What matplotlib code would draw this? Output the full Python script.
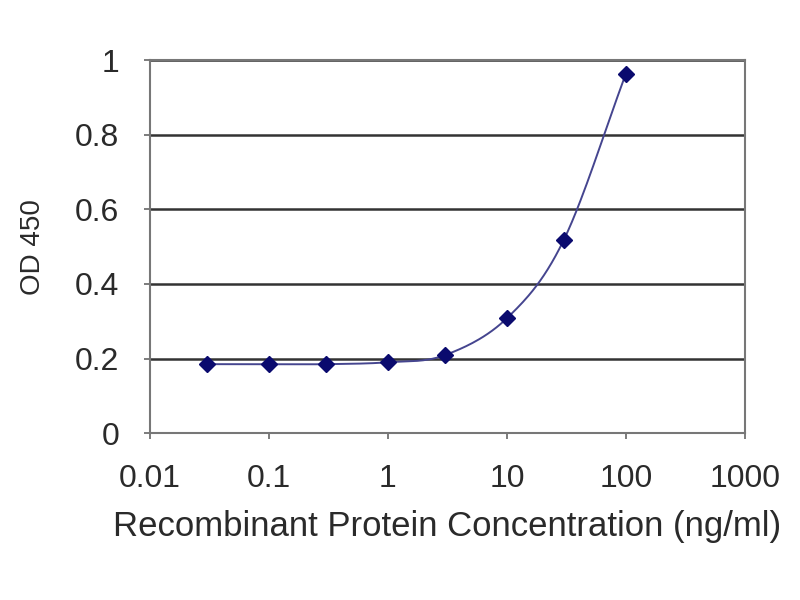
import numpy as np
import matplotlib
matplotlib.use("Agg")
import matplotlib.pyplot as plt

# concentration (ng/ml) and OD 450 readings
conc = [0.03, 0.1, 0.3, 1, 3, 10, 30, 100]
od450 = [0.185, 0.185, 0.185, 0.19, 0.209, 0.308, 0.517, 0.963]
xtick_vals = [0.01, 0.1, 1, 10, 100, 1000]
xtick_labels = ["0.01", "0.1", "1", "10", "100", "1000"]
ytick_vals = [0, 0.2, 0.4, 0.6, 0.8, 1]
ytick_labels = ["0", "0.2", "0.4", "0.6", "0.8", "1"]

plt.rcParams["font.family"] = ["Liberation Sans", "DejaVu Sans"]


def smooth(xs, ys, n=30):
    # excel-like smoothed line: catmull-rom in log-x space
    lx = np.log10(xs)
    y = np.asarray(ys, dtype=float)
    px = np.concatenate([[2 * lx[0] - lx[1]], lx, [2 * lx[-1] - lx[-2]]])
    py = np.concatenate([[2 * y[0] - y[1]], y, [2 * y[-1] - y[-2]]])
    outx, outy = [], []
    t = np.linspace(0, 1, n)
    for i in range(1, len(px) - 2):
        p0, p1, p2, p3 = px[i - 1:i + 3]
        q0, q1, q2, q3 = py[i - 1:i + 3]
        for a, b, c, d, out in ((p0, p1, p2, p3, outx), (q0, q1, q2, q3, outy)):
            out.extend(0.5 * ((2 * b) + (-a + c) * t + (2 * a - 5 * b + 4 * c - d) * t ** 2
                              + (-a + 3 * b - 3 * c + d) * t ** 3))
    return 10 ** np.array(outx), np.array(outy)


fig = plt.figure(figsize=(8, 6), dpi=100)
ax = fig.add_axes([0.1875, 0.278, 0.7435, 0.622])

sx, sy = smooth(conc, od450)
ax.plot(sx, sy, color="#45458f", lw=1.4, zorder=3)
ax.plot(conc, od450, linestyle="none", marker="D", ms=8.5, color="#0a0a6e", zorder=4)

ax.set_xscale("log")
ax.set_xlim(0.01, 1000)
ax.set_ylim(0, 1)
ax.set_xticks(xtick_vals)
ax.set_xticklabels(xtick_labels)
ax.xaxis.set_minor_locator(matplotlib.ticker.NullLocator())
ax.set_yticks(ytick_vals)
ax.set_yticklabels(ytick_labels)

for v in ytick_vals[1:]:
    ax.axhline(v, color="#333333", lw=1.8, zorder=1)

for s in ax.spines.values():
    s.set_color("#777777")
    s.set_linewidth(1.5)

ax.tick_params(axis="both", direction="out", length=4, width=1.2, color="#666666",
               labelsize=23, labelcolor="#2a2a2a")
ax.tick_params(axis="x", pad=18)
ax.tick_params(axis="y", pad=18)

ax.set_xlabel("Recombinant Protein Concentration (ng/ml)", fontsize=25, color="#2a2a2a")
ax.xaxis.set_label_coords(0.5, -0.205)
ax.set_ylabel("OD 450", fontsize=20, color="#2a2a2a")
ax.yaxis.set_label_coords(-0.175, 0.5)

fig.savefig("out.png", dpi=100)
